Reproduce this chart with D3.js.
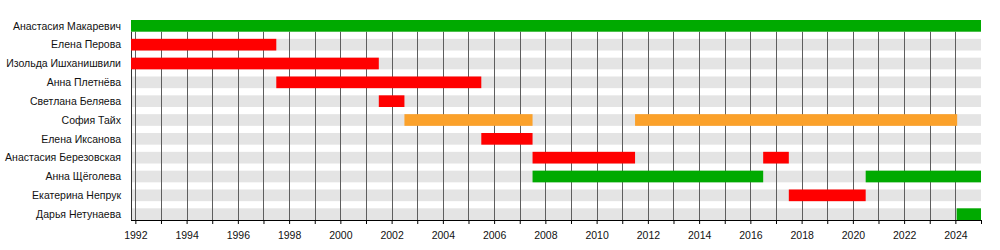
<!DOCTYPE html>
<html>
<head>
<meta charset="utf-8">
<script src="https://cdn.jsdelivr.net/npm/d3@7/dist/d3.min.js"></script>
<style>
  body { margin: 0; background: #fff; }
  svg { display: block; font-family: "Liberation Sans", Arial, sans-serif; }
</style>
</head>
<body>
<svg id="chart" width="1000" height="250"></svg>
<script>
// ---- data ----
const members = [
  "Анастасия Макаревич",
  "Елена Перова",
  "Изольда Ишханишвили",
  "Анна Плетнёва",
  "Светлана Беляева",
  "София Тайх",
  "Елена Иксанова",
  "Анастасия Березовская",
  "Анна Щёголева",
  "Екатерина Непрук",
  "Дарья Нетунаева"
];
// periods: member index, start (decimal year), end (decimal year), role
const periodMember = [0, 1, 2, 3, 4, 5, 5, 6, 7, 7, 8, 8, 9, 10];
const periodStart  = [1991.83, 1991.83, 1991.83, 1997.5, 2001.5, 2002.5, 2011.5, 2005.5, 2007.5, 2016.5, 2007.5, 2020.5, 2017.5, 2024.05];
const periodEnd    = [2025, 1997.5, 2001.5, 2005.5, 2002.5, 2007.5, 2024.07, 2007.5, 2011.5, 2017.5, 2016.5, 2025, 2020.5, 2025];
const periodRole   = ["lead", "vocal", "vocal", "vocal", "vocal", "other", "other", "vocal", "vocal", "vocal", "lead", "lead", "vocal", "lead"];
const roles = ["lead", "vocal", "other"];
const roleColors = ["#00aa00", "#ff0000", "#fba12a"];
const yearStart = 1991.83, yearEnd = 2025;
const tickYears = d3.range(1992, 2026);
const labelYears = d3.range(1992, 2026, 2);

// ---- layout ----
const svg = d3.select("#chart");
const mLeft = 131, mRight = 981, mTop = 20, mBottom = 220;

const x = d3.scaleLinear().domain([yearStart, yearEnd]).range([mLeft, mRight]);
const y = d3.scaleBand().domain(members).range([mTop, mBottom]).paddingInner(0.38).paddingOuter(0);
const color = d3.scaleOrdinal().domain(roles).range(roleColors);

// gray background bands
svg.append("g").selectAll("rect").data(members).join("rect")
  .attr("x", mLeft).attr("width", mRight - mLeft)
  .attr("y", d => y(d)).attr("height", y.bandwidth())
  .attr("fill", "#e4e4e4");

// vertical grid lines
const gridTop = y(members[0]) + y.bandwidth();
svg.append("g").selectAll("line").data(tickYears.filter(t => t < yearEnd)).join("line")
  .attr("x1", d => Math.round(x(d)) + 0.5).attr("x2", d => Math.round(x(d)) + 0.5)
  .attr("y1", gridTop).attr("y2", mBottom)
  .attr("stroke", "#5e5e5e").attr("stroke-width", 1);

// left edge line
svg.append("line")
  .attr("x1", mLeft + 0.5).attr("x2", mLeft + 0.5)
  .attr("y1", gridTop).attr("y2", mBottom)
  .attr("stroke", "#333");

// bars
const periods = periodMember.map((m, i) => ({
  member: members[m], start: periodStart[i], end: periodEnd[i], role: periodRole[i]
}));
svg.append("g").selectAll("rect").data(periods).join("rect")
  .attr("x", d => x(d.start)).attr("width", d => x(d.end) - x(d.start))
  .attr("y", d => y(d.member)).attr("height", y.bandwidth())
  .attr("fill", d => color(d.role));

// x axis
const axis = d3.axisBottom(x)
  .tickValues(tickYears)
  .tickSize(4)
  .tickSizeOuter(0)
  .tickFormat(d => labelYears.includes(d) ? String(d) : "");
const gx = svg.append("g").attr("transform", `translate(0,${mBottom})`).call(axis);
gx.select(".domain").attr("stroke", "#000").attr("d", `M${mLeft},0.5H${mRight}`);
gx.selectAll(".tick line").attr("stroke", "#000");
gx.selectAll(".tick text").attr("font-size", 10.5).attr("fill", "#111").attr("dy", "1.1em")
  .attr("font-family", "Liberation Sans, Arial, sans-serif");

// member labels
svg.append("g").selectAll("text").data(members).join("text")
  .attr("x", 121).attr("y", d => y(d) + y.bandwidth() / 2)
  .attr("dy", "0.35em").attr("text-anchor", "end")
  .attr("font-size", 10.5).attr("fill", "#111")
  .text(d => d);
</script>
</body>
</html>
